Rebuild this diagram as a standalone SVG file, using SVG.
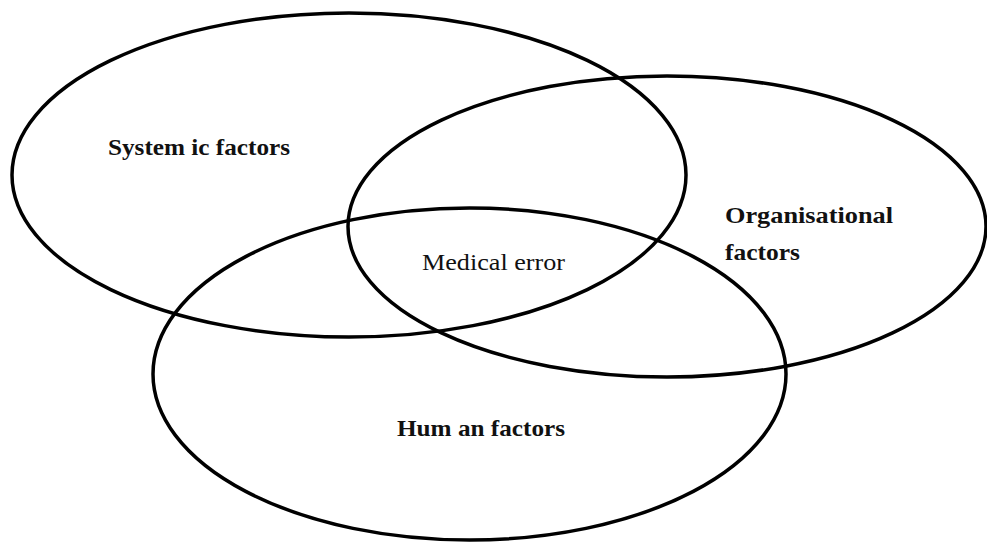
<svg xmlns="http://www.w3.org/2000/svg" width="987" height="543" viewBox="0 0 987 543">
<style>
.set{fill:none;stroke:#000;stroke-width:3.5}
.lb{font-family:"Liberation Serif","Times New Roman",serif;font-size:24px;font-weight:bold;fill:#111}
.lr{font-family:"Liberation Serif","Times New Roman",serif;font-size:24px;fill:#111}
</style>
<rect width="987" height="543" fill="#fff"/>
<g id="systemic">
<ellipse class="set" cx="349" cy="175" rx="337" ry="162"/>
<text class="lb" x="108" y="155" textLength="182" lengthAdjust="spacingAndGlyphs">System ic factors</text>
</g>
<g id="organisational">
<ellipse class="set" cx="667" cy="226.5" rx="319" ry="150.5"/>
<text class="lb" x="725" y="223" textLength="168" lengthAdjust="spacingAndGlyphs">Organisational</text>
<text class="lb" x="725" y="260" textLength="75" lengthAdjust="spacingAndGlyphs">factors</text>
</g>
<g id="human">
<ellipse class="set" cx="469.5" cy="374" rx="316.5" ry="166"/>
<text class="lb" x="397" y="436" textLength="168" lengthAdjust="spacingAndGlyphs">Hum an factors</text>
</g>
<g id="medical-error">
<text class="lr" x="422" y="270" textLength="143" lengthAdjust="spacingAndGlyphs">Medical error</text>
</g>
<g id="connectors"/>
</svg>
